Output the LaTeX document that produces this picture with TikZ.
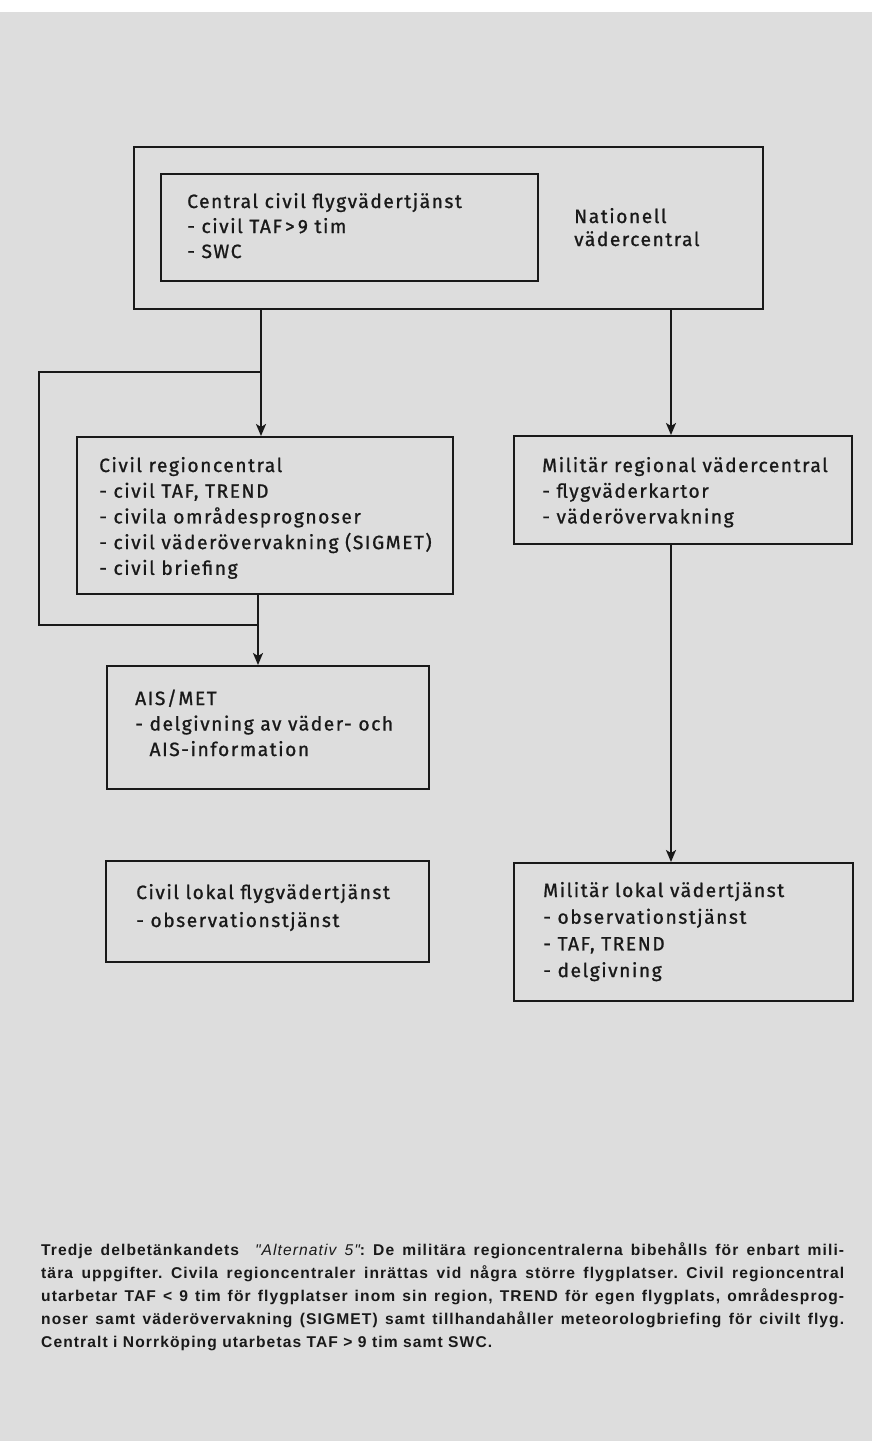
\documentclass[tikz,border=0pt]{standalone}
\usepackage{fontspec}
\setmainfont{Liberation Sans}
\newfontfamily\boxfont[LetterSpace=8,FakeBold=1]{Fira Sans}
\newfontfamily\capfont[LetterSpace=7]{Liberation Sans}
\usetikzlibrary{arrows.meta}
\definecolor{bg}{RGB}{221,221,221}
\definecolor{ink}{RGB}{25,25,25}
\begin{document}
\begin{tikzpicture}[x=1pt,y=-1pt,
  box/.style={draw=ink, line width=1.8pt, rectangle, inner sep=0pt, anchor=north west},
  txt/.style={anchor=base west, inner sep=0pt, text=ink},
  arr/.style={draw=ink, line width=1.8pt, -{Stealth[length=12pt,width=10pt,inset=3pt]}},
  ln/.style={draw=ink, line width=1.8pt}]
\useasboundingbox (0,0) rectangle (872,1441);
\fill[bg] (0,0) rectangle (872,1441);
\fill[white] (0,0) rectangle (872,12);
\newcommand\boxtext[2]{\boxfont\fontsize{19.2}{#1}\selectfont\begin{tabular}[t]{@{}l@{}}#2\end{tabular}}

% boxes
\node[box, minimum width=629pt, minimum height=162pt] (nvc) at (133,146) {};
\node[box, minimum width=377pt, minimum height=107pt] (ccf) at (160,173) {};
\node[box, minimum width=376pt, minimum height=157pt] (civ) at (76,436) {};
\node[box, minimum width=338pt, minimum height=108pt] (mrv) at (513,435) {};
\node[box, minimum width=322pt, minimum height=123pt] (ais) at (106,665) {};
\node[box, minimum width=323pt, minimum height=101pt] (clf) at (105,860) {};
\node[box, minimum width=339pt, minimum height=138pt] (mlv) at (513,862) {};

% texts
\node[txt] (tccf) at (187,208) {\boxtext{25}{Central civil flygvädertjänst\\- civil TAF\,>\,9 tim\\- SWC}};
\node[txt] (tnvc) at (574,223) {\boxtext{23}{Nationell\\vädercentral}};
\node[txt] (tciv) at (99,472) {\boxtext{25.7}{Civil regioncentral\\- civil TAF, TREND\\- civila områdesprognoser\\- civil väderövervakning (SIGMET)\\- civil briefing}};
\node[txt] (tmrv) at (542,472) {\boxtext{25.7}{Militär regional vädercentral\\- flygväderkartor\\- väderövervakning}};
\node[txt] (tais) at (135,705) {\boxtext{25.5}{AIS/MET\\- delgivning av väder- och\\\phantom{- }AIS-information}};
\node[txt] (tclf) at (136,899) {\boxtext{28}{Civil lokal flygvädertjänst\\- observationstjänst}};
\node[txt] (tmlv) at (543,897) {\boxtext{26.7}{Militär lokal vädertjänst\\- observationstjänst\\- TAF, TREND\\- delgivning}};

% connectors
\coordinate (j1) at (261,372);
\coordinate (lt) at (39,372);
\coordinate (lb) at (39,625);
\coordinate (j2) at (258,625);
\coordinate (rx) at (671,400);
\draw[arr] (j1 |- nvc.south) -- (j1 |- civ.north);
\draw[ln] (j1) -- (lt) -- (lb) -- (j2);
\draw[arr] (j2 |- civ.south) -- (j2 |- ais.north);
\draw[arr] (rx |- nvc.south) -- (rx |- mrv.north);
\draw[arr] (rx |- mrv.south) -- (rx |- mlv.north);

% caption
\node[txt] (cap) at (41,1255) {\parbox[t]{803pt}{\capfont\fontsize{15.6}{23}\selectfont\bfseries\frenchspacing\hyphenpenalty=10000\sloppy
Tredje delbetänkandets \enskip{\mdseries\itshape "Alternativ 5"}: De militära regioncentralerna bibehålls för enbart mili-\linebreak
tära uppgifter. Civila regioncentraler inrättas vid några större flygplatser. Civil regioncentral\linebreak
utarbetar TAF < 9 tim för flygplatser inom sin region, TREND för egen flygplats, områdesprog-\linebreak
noser samt väderövervakning (SIGMET) samt tillhandahåller meteorologbriefing för civilt flyg.\linebreak
Centralt i Norrköping utarbetas TAF > 9 tim samt SWC.}};
\end{tikzpicture}
\end{document}
